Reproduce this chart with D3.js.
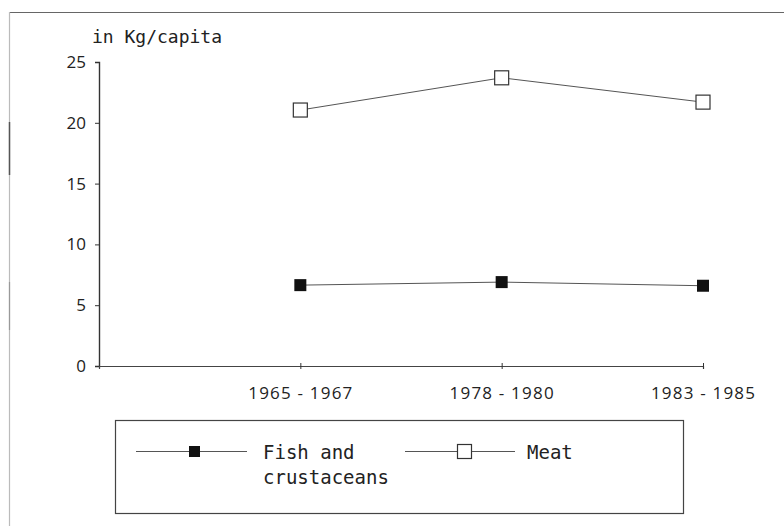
<!DOCTYPE html>
<html><head><meta charset="utf-8">
<script src="https://cdn.jsdelivr.net/npm/d3@7"></script>
<style>
html,body{margin:0;padding:0;background:#fff;}
svg{display:block;}
</style></head>
<body>
<svg id="chart" width="784" height="526"></svg>
<script>
const categories = ["1965-1967", "1978-1980", "1983-1985"];
const fishValues = [6.65, 6.9, 6.6];
const meatValues = [21.05, 23.7, 21.7];
const yTicks = [0, 5, 10, 15, 20, 25];
const seriesNames = ["Fish and crustaceans", "Meat"];
const yUnit = "in Kg/capita";

const svg = d3.select("#chart");
const mono = "'DejaVu Sans Mono', 'Liberation Mono', monospace";
const sans = "'Open Sans', 'DejaVu Sans', sans-serif";

// outer frame (scanned look)
svg.append("line").attr("x1", 9).attr("x2", 784).attr("y1", 12.5).attr("y2", 12.5)
  .attr("stroke", "#666").attr("stroke-width", 1.2);
svg.append("line").attr("x1", 9.5).attr("x2", 9.5).attr("y1", 12).attr("y2", 526)
  .attr("stroke", "#bbb").attr("stroke-width", 1.2);
svg.append("line").attr("x1", 9.5).attr("x2", 9.5).attr("y1", 122).attr("y2", 175)
  .attr("stroke", "#555").attr("stroke-width", 1.5);
svg.append("line").attr("x1", 9.5).attr("x2", 9.5).attr("y1", 282).attr("y2", 330)
  .attr("stroke", "#999").attr("stroke-width", 1.2);

const x = d3.scalePoint().domain(["", ...categories]).range([99, 703]);
const y = d3.scaleLinear().domain([0, 25]).range([366, 62]);

// y axis
const yAxis = svg.append("g").attr("transform", "translate(99,0)")
  .call(d3.axisLeft(y).tickValues(yTicks).tickSize(4).tickPadding(9).tickFormat(d3.format("d")));
yAxis.select(".domain").attr("stroke", "#333").attr("stroke-width", 1.4);
yAxis.selectAll(".tick line").attr("stroke", "#333");
yAxis.selectAll(".tick text").attr("font-family", sans).attr("font-size", 17).attr("fill", "#222");

// x axis
const xAxis = svg.append("g").attr("transform", "translate(0,366)")
  .call(d3.axisBottom(x).tickValues(categories).tickSizeOuter(0).tickSize(3).tickPadding(18));
xAxis.select(".domain").attr("stroke", "#444").attr("stroke-width", 1.2);
xAxis.selectAll(".tick line").attr("stroke", "#333").attr("y1", -3).attr("y2", 3);
xAxis.selectAll(".tick text").attr("font-family", sans).attr("font-size", 17)
  .attr("fill", "#222").attr("letter-spacing", 1.2)
  .text(d => d.replace("-", " - "));

// unit label
svg.append("text").attr("x", 92).attr("y", 43).text(yUnit)
  .attr("font-family", mono).attr("font-size", 18).attr("fill", "#222");

const line = d3.line().x((d, i) => x(categories[i])).y(d => y(d));

// fish
svg.append("path").datum(fishValues).attr("d", line)
  .attr("fill", "none").attr("stroke", "#555").attr("stroke-width", 1);
svg.selectAll(".fish").data(fishValues).join("rect")
  .attr("x", (d, i) => x(categories[i]) - 6).attr("y", d => y(d) - 6)
  .attr("width", 12).attr("height", 12).attr("fill", "#111");

// meat
svg.append("path").datum(meatValues).attr("d", line)
  .attr("fill", "none").attr("stroke", "#555").attr("stroke-width", 1);
svg.selectAll(".meat").data(meatValues).join("rect")
  .attr("x", (d, i) => x(categories[i]) - 7).attr("y", d => y(d) - 7)
  .attr("width", 14).attr("height", 14).attr("fill", "#fff")
  .attr("stroke", "#333").attr("stroke-width", 1.2);

// legend
svg.append("rect").attr("x", 115.5).attr("y", 420.5).attr("width", 568).attr("height", 93)
  .attr("fill", "none").attr("stroke", "#444").attr("stroke-width", 1.2);

const lg = svg.append("g");
// fish legend
lg.append("line").attr("x1", 136).attr("x2", 247).attr("y1", 451.5).attr("y2", 451.5)
  .attr("stroke", "#555").attr("stroke-width", 1);
lg.append("rect").attr("x", 189).attr("y", 446).attr("width", 11).attr("height", 11).attr("fill", "#111");
const ft = lg.append("text").attr("font-family", mono).attr("font-size", 19).attr("fill", "#222");
const fishWords = seriesNames[0].split(" ");
ft.append("tspan").attr("x", 263).attr("y", 459).text(fishWords.slice(0, 2).join(" "));
ft.append("tspan").attr("x", 263).attr("y", 484).text(fishWords.slice(2).join(" "));
// meat legend
lg.append("line").attr("x1", 405).attr("x2", 515).attr("y1", 451.5).attr("y2", 451.5)
  .attr("stroke", "#555").attr("stroke-width", 1);
lg.append("rect").attr("x", 457.5).attr("y", 444.5).attr("width", 14).attr("height", 14)
  .attr("fill", "#fff").attr("stroke", "#333").attr("stroke-width", 1.2);
lg.append("text").attr("x", 527).attr("y", 459).text(seriesNames[1])
  .attr("font-family", mono).attr("font-size", 19).attr("fill", "#222");
</script>
</body></html>
